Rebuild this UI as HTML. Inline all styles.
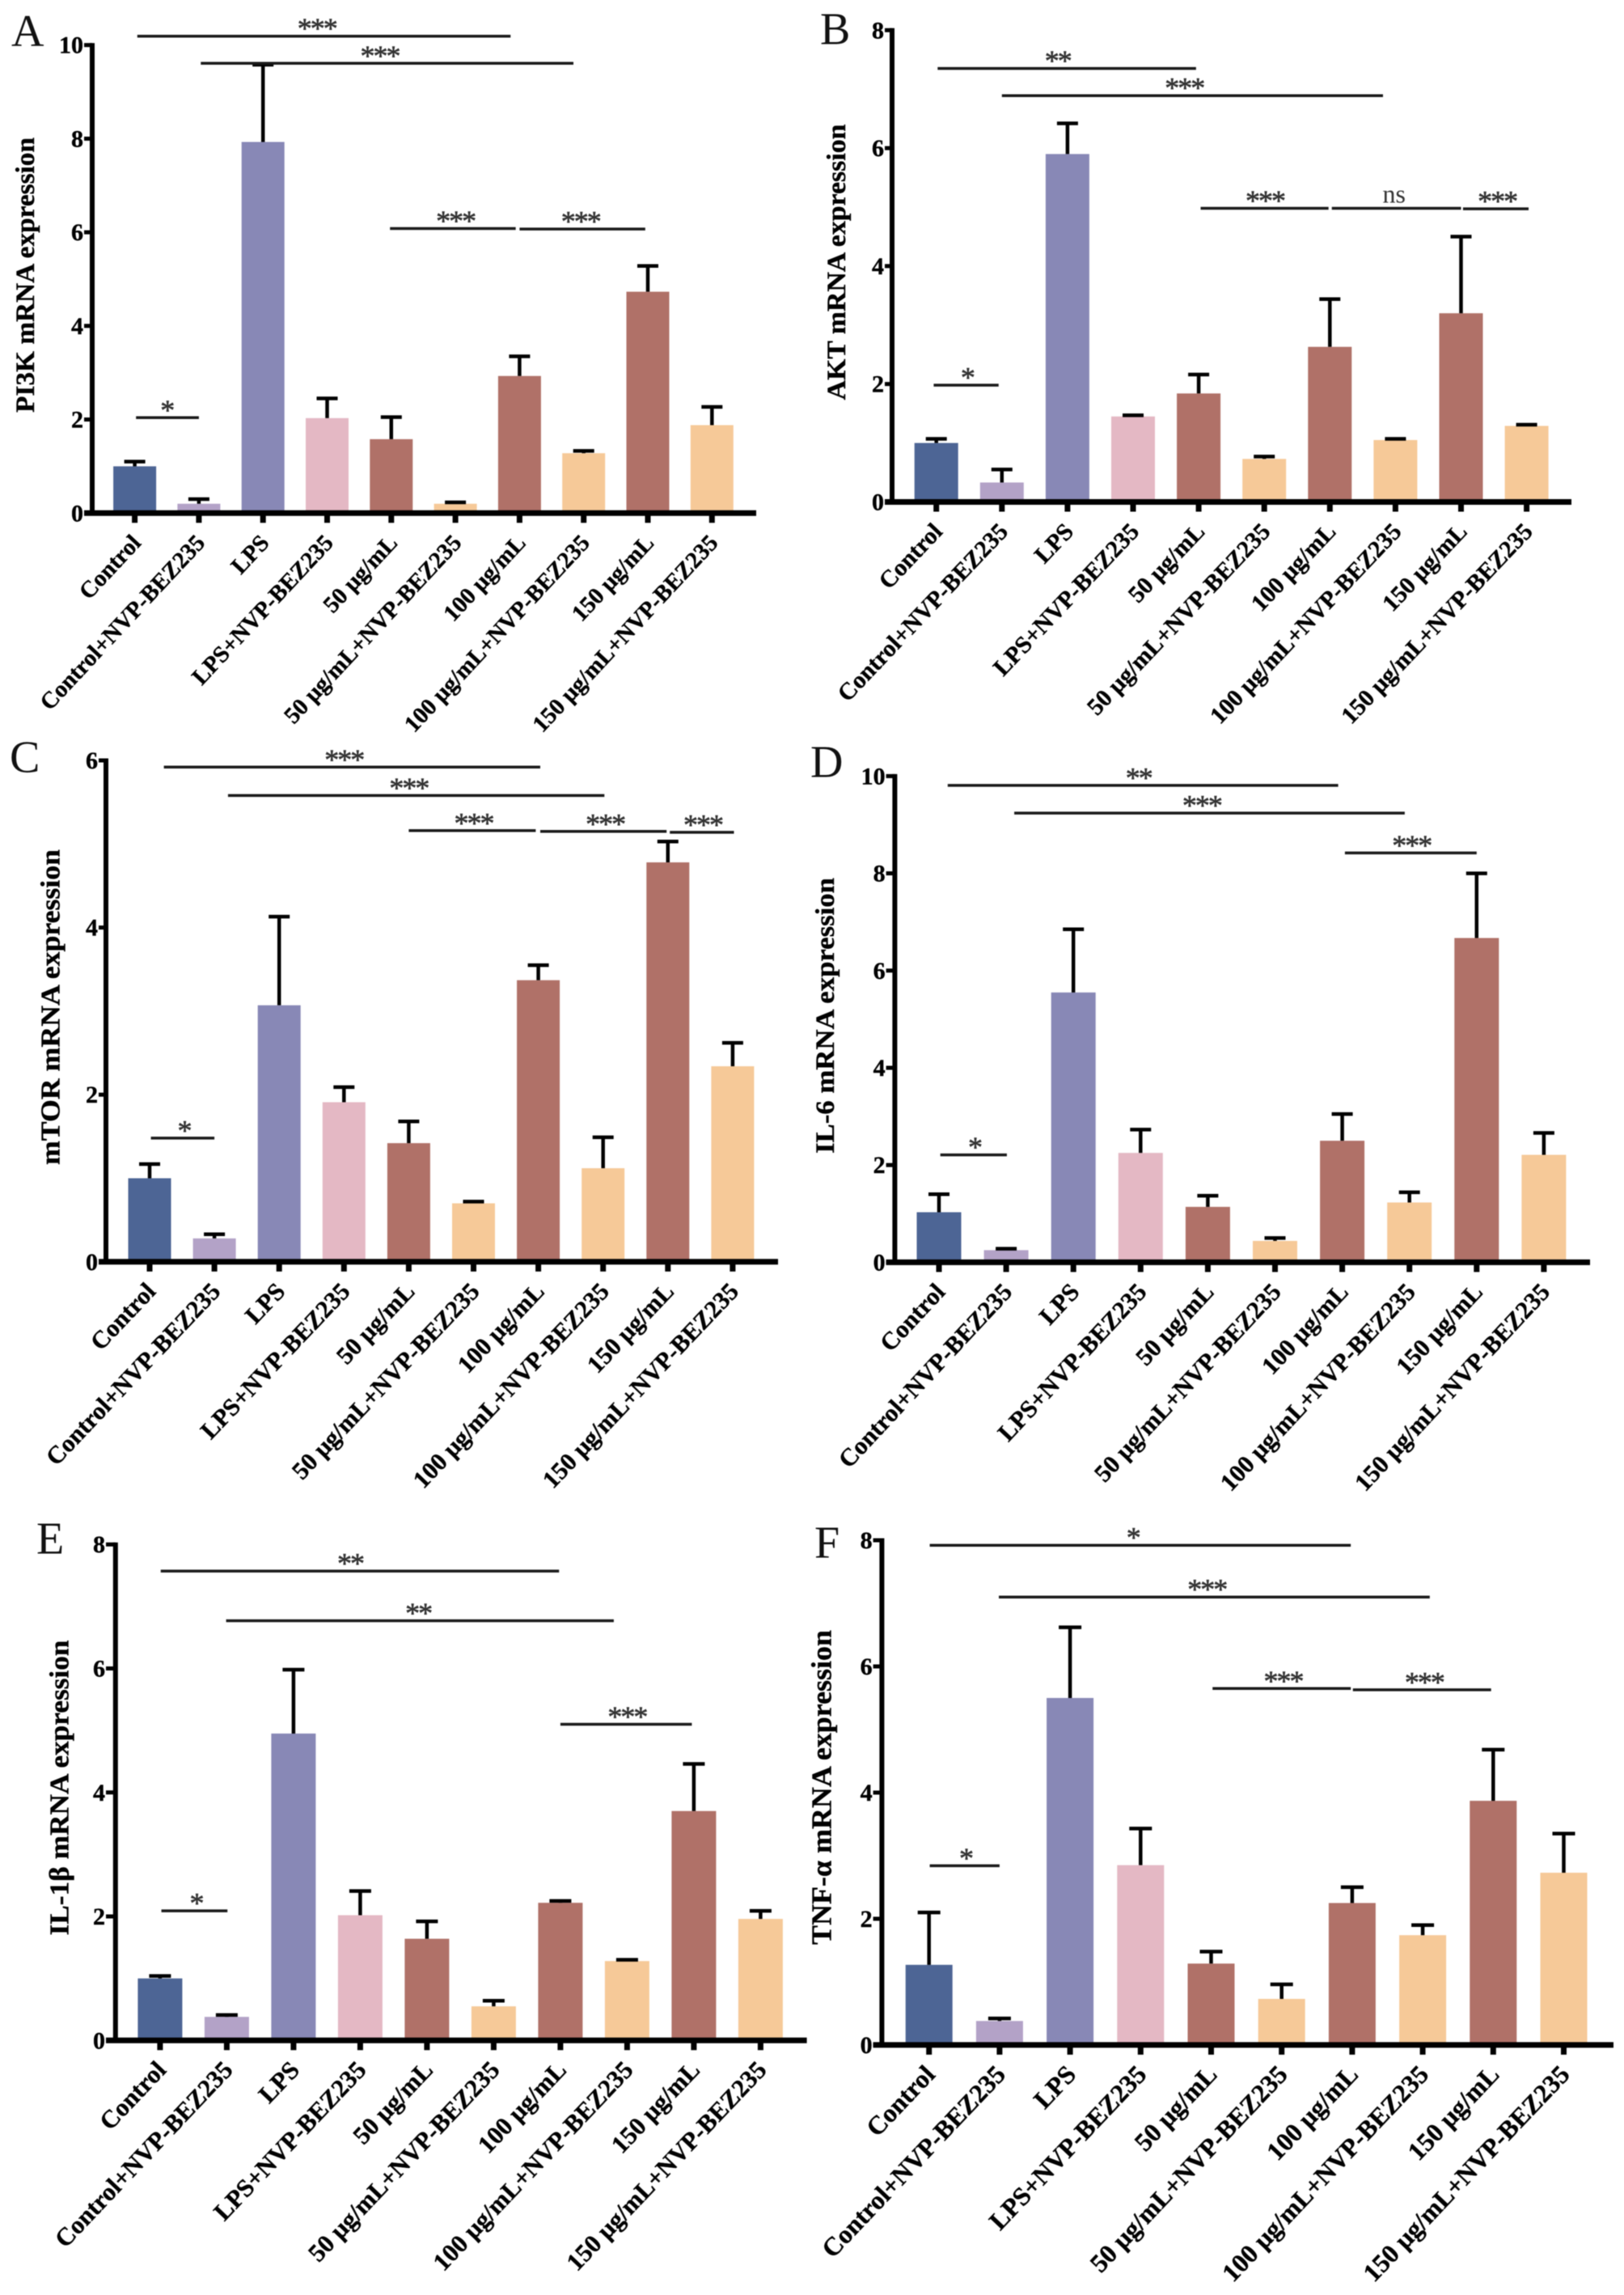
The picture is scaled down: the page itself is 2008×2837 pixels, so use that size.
<!DOCTYPE html>
<html lang="en">
<head>
<meta charset="utf-8">
<title>mRNA expression bar charts</title>
<style>
html,body{margin:0;padding:0;background:#fff;}
#figure{display:block;width:2008px;height:2837px;filter:blur(0.6px);}
text{font-family:"Liberation Serif","Noto Serif CJK SC",serif;}
</style>
</head>
<body>
<svg id="figure" xmlns="http://www.w3.org/2000/svg" width="2008" height="2837" viewBox="0 0 2008 2837"></svg>
<script>
// ---- Data ----
const categories = ["Control","Control+NVP-BEZ235","LPS","LPS+NVP-BEZ235","50 μg/mL","50 μg/mL+NVP-BEZ235","100 μg/mL","100 μg/mL+NVP-BEZ235","150 μg/mL","150 μg/mL+NVP-BEZ235"];
const barColors = ["#4d6595","#b3a2c7","#8888b6","#e4b8c4","#b07168","#f6c998","#b07168","#f6c998","#b07168","#f6c998"];

const pi3kMeans = [1.0,0.2,7.93,2.03,1.58,0.2,2.93,1.28,4.73,1.88];
const pi3kUpper = [1.1,0.3,9.58,2.45,2.05,0.23,3.35,1.33,5.28,2.27];
const pi3kTicks = [0,2,4,6,8,10];
const pi3kSig = [[0.04,5.86,10.19,"***",2.84],[1.03,6.84,9.61,"***",3.82],[3.98,5.94,6.08,"***",5.0],[6.0,7.96,6.07,"***",6.95],[0.02,1.0,2.04,"*",0.5]];

const aktMeans = [1.0,0.33,5.9,1.45,1.84,0.73,2.63,1.05,3.2,1.29];
const aktUpper = [1.07,0.55,6.42,1.47,2.16,0.77,3.44,1.07,4.5,1.31];
const aktTicks = [0,2,4,6,8];
const aktSig = [[0.02,3.96,7.35,"**",1.85],[1.0,6.81,6.89,"***",3.78],[4.03,5.98,4.98,"***",5.01],[6.03,8.0,4.98,"ns",6.98],[8.03,9.03,4.97,"***",8.55],[-0.04,0.95,1.98,"*",0.47]];

const mtorMeans = [1.0,0.28,3.07,1.91,1.42,0.7,3.37,1.12,4.78,2.34];
const mtorUpper = [1.17,0.33,4.13,2.09,1.68,0.72,3.55,1.49,5.03,2.62];
const mtorTicks = [0,2,4,6];
const mtorSig = [[0.22,6.03,5.92,"***",3.0],[1.21,7.02,5.58,"***",4.0],[4.0,5.96,5.16,"***",5.0],[6.03,7.98,5.15,"***",7.03],[8.03,9.02,5.14,"***",8.54],[0.02,1.0,1.48,"*",0.53]];

const il6Means = [1.03,0.25,5.55,2.25,1.14,0.44,2.5,1.23,6.67,2.21];
const il6Upper = [1.4,0.28,6.85,2.73,1.37,0.5,3.05,1.44,8.0,2.66];
const il6Ticks = [0,2,4,6,8,10];
const il6Sig = [[0.13,5.94,9.81,"**",2.97],[1.12,6.93,9.24,"***",3.91],[6.04,8.0,8.42,"***",7.03],[0.02,1.01,2.21,"*",0.53]];

const il1bMeans = [1.0,0.38,4.95,2.02,1.64,0.55,2.22,1.28,3.7,1.96];
const il1bUpper = [1.04,0.41,5.98,2.41,1.92,0.64,2.25,1.3,4.46,2.09];
const il1bTicks = [0,2,4,6,8];
const il1bSig = [[0.01,5.98,7.57,"**",2.85],[0.99,6.8,6.77,"**",3.87],[6.0,7.97,5.1,"***",7.0],[0.02,1.01,2.09,"*",0.54]];

const tnfMeans = [1.27,0.38,5.5,2.85,1.29,0.73,2.25,1.74,3.87,2.73];
const tnfUpper = [2.1,0.42,6.62,3.43,1.48,0.96,2.5,1.9,4.68,3.35];
const tnfTicks = [0,2,4,6,8];
const tnfSig = [[0.01,5.98,7.92,"*",2.89],[0.99,7.1,7.1,"***",3.94],[4.02,5.98,5.65,"***",5.02],[6.01,7.97,5.63,"***",7.02],[0.01,1.0,2.84,"*",0.52]];

// ---- Panel layout ----
const panels = [
 {id:"a",letter:"A",lx:14,ly:57,title:"PI3K mRNA expression",tx:42,ty:340,tl:340,ts:33,means:pi3kMeans,upper:pi3kUpper,ticks:pi3kTicks,sig:pi3kSig,axisX:114,left:104,right:935,y0:634.3,yTop:55.7,x0:166.6,dx:79.3,bw:53,cap:26,fs:29,ang:47},
 {id:"b",letter:"B",lx:1014,ly:54.5,title:"AKT mRNA expression",tx:1045,ty:324,tl:341,ts:33,means:aktMeans,upper:aktUpper,ticks:aktTicks,sig:aktSig,axisX:1103,left:1094,right:1943,y0:620.5,yTop:37.3,x0:1157.7,dx:81.1,bw:54,cap:26,fs:29.7,ang:46.5},
 {id:"c",letter:"C",lx:12,ly:954.5,title:"mTOR mRNA expression",tx:73.6,ty:1245,tl:390,ts:34,means:mtorMeans,upper:mtorUpper,ticks:mtorTicks,sig:mtorSig,axisX:131,left:122,right:962,y0:1559.8,yTop:940,x0:185,dx:80.1,bw:53,cap:26,fs:30.4,ang:46.5},
 {id:"d",letter:"D",lx:1002,ly:960.6,title:"IL-6 mRNA expression",tx:1031,ty:1255.5,tl:341,ts:33,means:il6Means,upper:il6Upper,ticks:il6Ticks,sig:il6Sig,axisX:1106.4,left:1095.6,right:1966,y0:1560.4,yTop:959.4,x0:1161,dx:83.1,bw:55,cap:26,fs:30.5,ang:47},
 {id:"e",letter:"E",lx:45,ly:1920.5,title:"IL-1β mRNA expression",tx:84.5,ty:2210,tl:365,ts:34,means:il1bMeans,upper:il1bUpper,ticks:il1bTicks,sig:il1bSig,axisX:142.8,left:131,right:997.6,y0:2522.3,yTop:1909.2,x0:197.9,dx:82.5,bw:55,cap:27,fs:31,ang:46.5},
 {id:"f",letter:"F",lx:1007,ly:1925.5,title:"TNF-α mRNA expression",tx:1027.7,ty:2209.5,tl:389,ts:35,means:tnfMeans,upper:tnfUpper,ticks:tnfTicks,sig:tnfSig,axisX:1090.4,left:1079.6,right:1995,y0:2527.9,yTop:1904,x0:1148.7,dx:87.2,bw:58,cap:28,fs:32,ang:46.5}
];

const svg = document.getElementById("figure");
const NS = "http://www.w3.org/2000/svg";

function line(parent,x1,y1,x2,y2,color,width){
  const el = document.createElementNS(NS,"line");
  el.setAttribute("x1",x1);
  el.setAttribute("y1",y1);
  el.setAttribute("x2",x2);
  el.setAttribute("y2",y2);
  el.setAttribute("stroke",color);
  el.setAttribute("stroke-width",width);
  parent.appendChild(el);
  return el;
}
function label(parent,x,y,str,size,weight,anchor,color){
  const el = document.createElementNS(NS,"text");
  el.setAttribute("x",x);
  el.setAttribute("y",y);
  el.setAttribute("font-size",size);
  el.setAttribute("font-weight",weight);
  el.setAttribute("text-anchor",anchor);
  el.setAttribute("fill",color);
  el.textContent = str;
  parent.appendChild(el);
  return el;
}

panels.forEach(function(p){
  const maxV = p.ticks[p.ticks.length-1];
  const sy = function(v){ return p.y0 - (v/maxV)*(p.y0-p.yTop); };
  const sx = function(i){ return p.x0 + i*p.dx; };

  const g = document.createElementNS(NS,"g");
  
  
  svg.appendChild(g);

  const letter = label(g,p.lx,p.ly,p.letter,56,"normal","start","#111");
  
  

  const title = label(g,p.tx,p.ty,p.title,p.ts,"bold","middle","#000");
  title.setAttribute("transform","rotate(-90 "+p.tx+" "+p.ty+")");
  title.setAttribute("textLength",p.tl);
  title.setAttribute("lengthAdjust","spacingAndGlyphs");
  title.setAttribute("stroke","#000");
  title.setAttribute("stroke-width","0.4");
  
  

  // bars and error bars
  p.means.forEach(function(v,i){
    const bar = document.createElementNS(NS,"rect");
    bar.setAttribute("x",sx(i)-p.bw/2);
    bar.setAttribute("y",sy(v));
    bar.setAttribute("width",p.bw);
    bar.setAttribute("height",p.y0-sy(v));
    bar.setAttribute("fill",barColors[i]);
    
    
    g.appendChild(bar);

    const stem = line(g,sx(i),sy(v),sx(i),sy(p.upper[i]),"#000",4.5);
    
    

    const cap = line(g,sx(i)-p.cap/2,sy(p.upper[i]),sx(i)+p.cap/2,sy(p.upper[i]),"#000",4.5);
    
    
  });

  // axes
  const yAxis = line(g,p.axisX,sy(maxV)-2.5,p.axisX,p.y0+3,"#000",6);
  
  

  const xAxis = line(g,p.left,p.y0,p.right,p.y0,"#000",7);
  
  

  p.ticks.forEach(function(t){
    const tick = line(g,p.left,sy(t),p.axisX,sy(t),"#000",5);
    
    

    const tl = label(g,p.left-1,sy(t)+10,String(t),30,"bold","end","#000");
    tl.setAttribute("stroke","#000");
    tl.setAttribute("stroke-width","0.4");
    
    
  });

  categories.forEach(function(c,i){
    const tick = line(g,sx(i),p.y0,sx(i),p.y0+12,"#000",7);
    
    

    const lx = sx(i)+9, ly = p.y0+38;
    const cl = label(g,lx,ly,c,p.fs,"bold","end","#000");
    cl.setAttribute("transform","rotate(-"+p.ang+" "+lx+" "+ly+")");
    cl.setAttribute("stroke","#000");
    cl.setAttribute("stroke-width","0.4");
    
    
  });

  // significance brackets
  p.sig.forEach(function(s){
    const y = sy(s[2]);
    const br = line(g,sx(s[0]),y,sx(s[1]),y,"#1a1a1a",3.5);
    
    

    const isNs = s[3]==="ns";
    const st = label(g,sx(s[4]),isNs ? y-7 : y+2.5,s[3],isNs ? 32 : 36,"normal","middle","#333");
    if(!isNs){
      st.setAttribute("letter-spacing","-2");
      st.setAttribute("stroke","#333");
      st.setAttribute("stroke-width","0.6");
    }
    
    
  });
});
</script>
</body>
</html>
